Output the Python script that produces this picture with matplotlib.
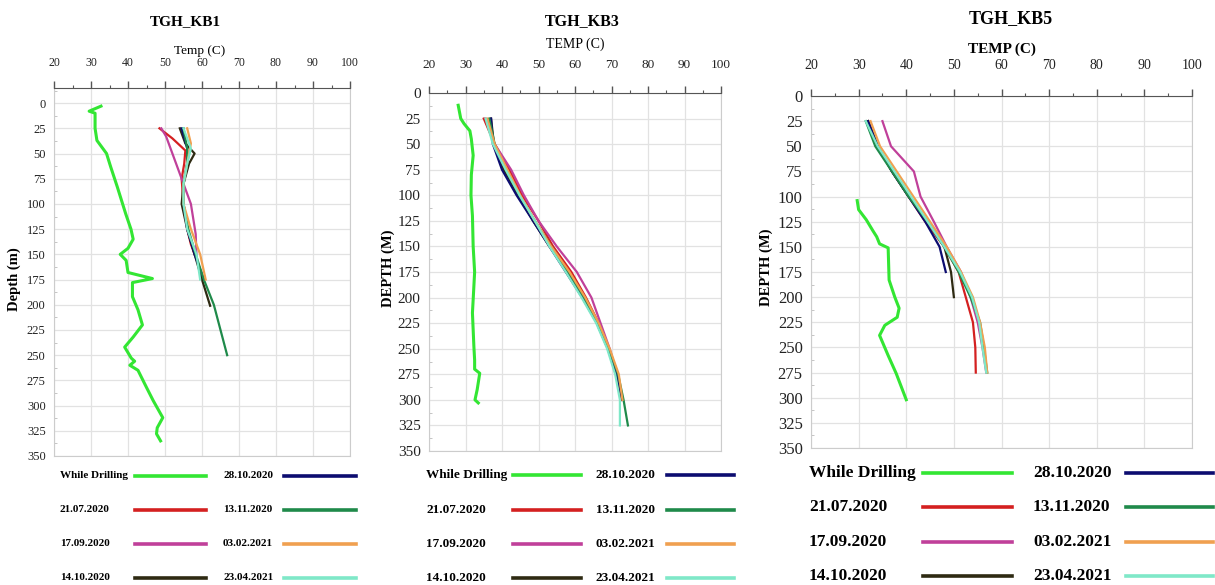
import matplotlib
matplotlib.use('Agg')
import matplotlib.pyplot as plt
from matplotlib.lines import Line2D
from matplotlib.ticker import MultipleLocator

plt.rcParams['font.family'] = ['Liberation Serif', 'DejaVu Serif']

labels = ['While Drilling', '21.07.2020', '17.09.2020', '14.10.2020',
          '28.10.2020', '13.11.2020', '03.02.2021', '23.04.2021']
colors = ['#33e633', '#d42020', '#c0409a', '#2e2a12',
          '#0c0c70', '#1f8a4a', '#f0a050', '#7fe8c8']

# ---- TGH_KB1 ----
kb1_wd_t = [32.7, 29.5, 31.1, 31.1, 31.6, 34.2, 35.3, 37.1, 39.4, 40.8, 41.4, 40.0, 37.9,
            39.5, 40.0, 46.6, 41.2, 41.2, 42.7, 43.9, 41.4, 39.1, 40.9, 41.8, 40.5, 42.7,
            45.0, 46.8, 49.4, 47.9, 47.7, 48.8]
kb1_wd_d = [3, 8, 10, 25, 37, 50, 63, 83, 110, 125, 135, 144, 150,
            156, 168, 174, 178, 192, 205, 220, 232, 242, 253, 256, 260, 265,
            282, 295, 312, 322, 328, 335]
kb1_red_t = [48.5, 52.0, 55.5, 55.2, 54.5, 55.0, 56.0, 57.0, 58.0]
kb1_red_d = [25, 35, 47, 60, 75, 100, 125, 140, 150]
kb1_pink_t = [49.0, 50.3, 52.5, 54.3, 55.5, 57.0, 58.3, 58.5]
kb1_pink_d = [25, 33, 55, 73, 85, 100, 130, 150]
kb1_blk_t = [54.0, 55.5, 58.0, 56.5, 55.0, 54.5, 56.0, 58.0, 60.0, 62.2]
kb1_blk_d = [25, 40, 50, 60, 80, 100, 125, 150, 175, 201]
kb1_navy_t = [54.5, 56.0, 56.0, 55.0, 55.0, 56.0, 58.0, 60.5]
kb1_navy_d = [25, 45, 60, 80, 100, 125, 150, 175]
kb1_dgrn_t = [55.0, 56.0, 56.0, 55.0, 55.0, 56.3, 58.3, 60.5, 63.2, 65.0, 66.8]
kb1_dgrn_d = [25, 45, 60, 80, 100, 125, 150, 175, 200, 225, 250]
kb1_org_t = [56.0, 57.0, 56.0, 55.0, 55.0, 57.0, 59.5, 61.0]
kb1_org_d = [25, 40, 60, 80, 100, 125, 150, 175]
kb1_cyan_t = [55.0, 57.0, 56.0, 55.0, 55.0, 56.0, 58.5, 59.5]
kb1_cyan_d = [25, 45, 60, 80, 100, 125, 150, 175]

# ---- TGH_KB3 ----
kb3_wd_t = [28.0, 28.7, 29.6, 31.2, 31.6, 32.1, 31.6, 31.5, 31.9, 32.1, 32.5, 32.1,
            31.9, 32.3, 32.5, 32.5, 33.9, 33.2, 32.6, 33.5]
kb3_wd_d = [12, 25, 30, 37, 45, 61, 80, 100, 120, 150, 175, 202,
            215, 248, 261, 270, 274, 290, 300, 303]
kb3_d = [25, 50, 75, 100, 125, 150, 175, 200, 225, 250, 275, 300]
kb3_d_long = [25, 50, 75, 100, 125, 150, 175, 200, 225, 250, 275, 300, 325]
kb3_red_t = [35.0, 38.0, 42.0, 45.5, 50.0, 54.0, 59.0, 63.0, 66.5, 69.3, 71.5, 72.8]
kb3_pink_t = [35.5, 38.0, 42.5, 46.0, 50.0, 55.0, 60.5, 64.5, 67.0, 69.5, 71.5, 73.0]
kb3_blk_t = [37.0, 37.8, 40.5, 44.5, 48.5, 53.0, 58.0, 62.5, 66.0, 69.0, 71.5, 73.0]
kb3_navy_t = [37.0, 37.5, 40.0, 44.0, 48.5, 53.0, 57.5, 62.0, 66.0, 69.0, 71.5, 73.0]
kb3_dgrn_t = [36.5, 38.0, 41.0, 44.8, 49.0, 53.5, 58.2, 62.5, 66.3, 69.3, 71.8, 73.3, 74.5]
kb3_org_t = [36.0, 38.0, 41.5, 45.0, 49.0, 53.5, 58.5, 62.8, 66.5, 69.5, 72.0, 73.0]
kb3_cyan_t = [35.5, 37.5, 41.0, 44.8, 49.0, 53.0, 57.5, 61.8, 65.8, 68.8, 71.0, 72.3, 72.3]

# ---- TGH_KB5 ----
kb5_wd_t = [29.7, 30.0, 31.6, 33.0, 33.8, 34.4, 36.2, 36.4, 37.6, 38.5, 38.1, 35.5,
            34.4, 36.2, 37.9, 40.0]
kb5_wd_d = [104, 113, 123, 134, 140, 147, 151, 183, 200, 211, 220, 228,
            238, 258, 276, 302]
kb5_d = [25, 50, 75, 100, 125, 150, 175, 200, 225, 250, 275]
kb5_red_t = [32.0, 34.0, 37.0, 40.5, 44.0, 48.0, 51.0, 52.5, 54.0, 54.5, 54.6]
kb5_pink_t = [35.0, 36.8, 41.6, 43.0, 45.8, 48.5, 51.5, 53.5, 55.0, 56.0, 56.8]
kb5_blk_t = [32.0, 34.0, 37.0, 40.5, 44.5, 48.0, 49.4, 50.0]
kb5_navy_t = [32.0, 34.0, 37.0, 40.5, 44.0, 47.0, 48.3]
kb5_dgrn_t = [31.5, 33.5, 37.0, 40.5, 44.5, 48.0, 51.0, 53.5, 55.5, 56.3, 57.0]
kb5_org_t = [32.5, 34.5, 38.0, 41.5, 45.0, 48.5, 51.5, 54.0, 55.5, 56.5, 57.0]
kb5_cyan_t = [31.5, 34.0, 37.5, 41.0, 44.5, 48.0, 51.3, 53.8, 55.3, 56.0, 56.8]

W, H = 1215, 585
fig = plt.figure(figsize=(W / 100, H / 100), dpi=100)


def px_axes(left, right, top, bottom):
    return fig.add_axes([left / W, 1 - bottom / H, (right - left) / W, (bottom - top) / H])


def style(ax, ytop, xfs, yfs, xpad):
    ax.set_xlim(20, 100)
    ax.set_ylim(350, ytop)
    ax.xaxis.tick_top()
    ax.xaxis.set_major_locator(MultipleLocator(10))
    ax.xaxis.set_minor_locator(MultipleLocator(5))
    ax.yaxis.set_minor_locator(MultipleLocator(12.5))
    ax.set_yticks(range(0, 351, 25))
    ax.grid(True, which='major', color='#e2e2e2', lw=0.9)
    ax.set_axisbelow(True)
    ax.tick_params(axis='x', which='major', direction='out', length=5, width=1,
                   color='#555555', pad=xpad, labelsize=xfs, labelcolor='#222222')
    ax.tick_params(axis='x', which='minor', direction='out', length=2.5, width=0.8,
                   color='#555555')
    ax.tick_params(axis='y', which='major', length=0, pad=6, labelsize=yfs,
                   labelcolor='#222222')
    ax.tick_params(axis='y', which='minor', direction='in', length=2.5,
                   color='#bbbbbb')
    for s in ['left', 'right', 'bottom']:
        ax.spines[s].set_color('#cccccc')
    ax.spines['top'].set_color('#555555')


def legend(fs, cols, rows):
    # cols: (text_x, line_x1, line_x2) for each of the two columns, in pixels
    for i, (lab, c) in enumerate(zip(labels, colors)):
        tx, x1, x2 = cols[i // 4]
        y = 1 - rows[i % 4] / H
        fig.text(tx / W, y, lab, ha='left', va='center', fontsize=fs, weight='bold')
        fig.add_artist(Line2D([x1 / W, x2 / W], [y, y], transform=fig.transFigure,
                              color=c, lw=2.6))


def draw(ax, series):
    for (t, d), c in zip(series, colors):
        lw = 2.2 if c == colors[0] else 1.6
        ax.plot(t, d, color=c, lw=lw)


# panel 1
ax1 = px_axes(54, 350, 88, 456)
style(ax1, -15, 8.5, 9, 8.5)
draw(ax1, [(kb1_wd_t, kb1_wd_d), (kb1_red_t, kb1_red_d), (kb1_pink_t, kb1_pink_d),
           (kb1_blk_t, kb1_blk_d), (kb1_navy_t, kb1_navy_d), (kb1_dgrn_t, kb1_dgrn_d),
           (kb1_org_t, kb1_org_d), (kb1_cyan_t, kb1_cyan_d)])
fig.text(185 / W, 1 - 22 / H, 'TGH_KB1', ha='center', va='center', fontsize=11, weight='bold')
fig.text(200 / W, 1 - 51 / H, 'Temp (C)', ha='center', va='center', fontsize=9.5)
fig.text(14 / W, 1 - 279 / H, 'Depth (m)', ha='center', va='center', rotation=90,
         fontsize=10.5, weight='bold')
legend(8, [(60, 135, 206), (223, 284, 356)], [476, 510, 544, 578])

# panel 2
ax2 = px_axes(429, 721, 93, 451)
style(ax2, 0, 9.5, 11, 11)
draw(ax2, [(kb3_wd_t, kb3_wd_d), (kb3_red_t, kb3_d), (kb3_pink_t, kb3_d),
           (kb3_blk_t, kb3_d), (kb3_navy_t, kb3_d), (kb3_dgrn_t, kb3_d_long),
           (kb3_org_t, kb3_d), (kb3_cyan_t, kb3_d_long)])
fig.text(582 / W, 1 - 21 / H, 'TGH_KB3', ha='center', va='center', fontsize=11.5, weight='bold')
fig.text(575 / W, 1 - 44 / H, 'TEMP (C)', ha='center', va='center', fontsize=10)
fig.text(388 / W, 1 - 268 / H, 'DEPTH (M)', ha='center', va='center', rotation=90,
         fontsize=10.5, weight='bold')
legend(9.5, [(426, 513, 581), (596, 667, 734)], [475, 510, 544, 578])

# panel 3
ax3 = px_axes(811, 1192, 96, 448)
style(ax3, 0, 10, 12, 12)
draw(ax3, [(kb5_wd_t, kb5_wd_d), (kb5_red_t, kb5_d), (kb5_pink_t, kb5_d),
           (kb5_blk_t, kb5_d[:8]), (kb5_navy_t, kb5_d[:7]), (kb5_dgrn_t, kb5_d),
           (kb5_org_t, kb5_d), (kb5_cyan_t, kb5_d)])
fig.text(1011 / W, 1 - 19 / H, 'TGH_KB5', ha='center', va='center', fontsize=13, weight='bold')
fig.text(1002 / W, 1 - 49 / H, 'TEMP (C)', ha='center', va='center', fontsize=11, weight='bold')
fig.text(766 / W, 1 - 267 / H, 'DEPTH (M)', ha='center', va='center', rotation=90,
         fontsize=10.5, weight='bold')
legend(12.5, [(809, 923, 1012), (1033, 1126, 1213)], [473, 507, 542, 576])

fig.savefig('out.png', dpi=100)
